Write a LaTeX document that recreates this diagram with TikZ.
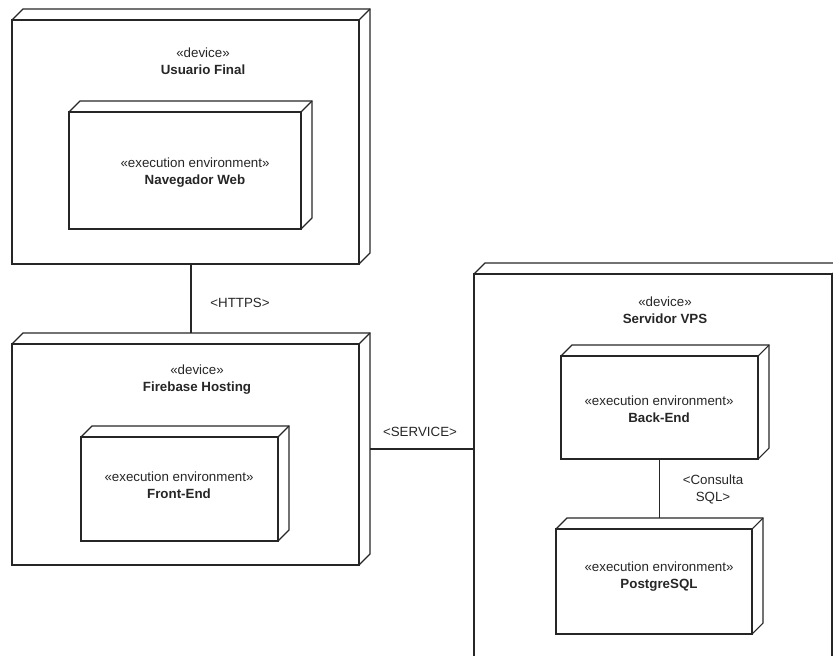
\documentclass[tikz,border=0pt]{standalone}
\usepackage{fontspec}
\setmainfont{Liberation Sans}
\usetikzlibrary{fit}

% front face plus the two back edges of a UML node
\newcommand{\cubeframe}[1]{%
  \draw[cubeline] ([yshift=-8.25pt]#1.north west) rectangle ([xshift=-8.25pt]#1.south east);
  \draw[cubeline] ([yshift=-8.25pt]#1.north west) -- ([xshift=8.25pt]#1.north west) -- (#1.north east)
    -- ([yshift=8.25pt]#1.south east) -- ([xshift=-8.25pt]#1.south east);
  \draw[cubeline] ([xshift=-8.25pt,yshift=-8.25pt]#1.north east) -- (#1.north east);
}

\begin{document}
\begin{tikzpicture}[x=0.75pt,y=-0.75pt,
  cube/.style={inner sep=0pt,outer sep=0pt},
  cubeline/.style={line width=0.8pt,draw=black!85},
  stereo/.style={align=center,font=\fontsize{10}{12.75}\selectfont,text=black!85},
  link/.style={line width=0.8pt,draw=black!85}]
\useasboundingbox (0,0) rectangle (833,656);
\clip (0,0) rectangle (833,656);

% devices
\node[cube,fit={(12,9) (370,264)}] (usuario) {};
\cubeframe{usuario}
\node[stereo] (usuariotxt) at (203,61.5) {«device»\\\textbf{Usuario Final}};

\node[cube,fit={(12,333) (370,565)}] (firebase) {};
\cubeframe{firebase}
\node[stereo] (firebasetxt) at (197,380) {«device»\\\textbf{Firebase Hosting}};

\node[cube,fit={(474,263) (843,720)}] (servidor) {};
\cubeframe{servidor}
\node[stereo] (servidortxt) at (665,310.5) {«device»\\\textbf{Servidor VPS}};

% execution environments
\node[cube,fit={(69,101) (312,229)}] (navegador) {};
\cubeframe{navegador}
\node[stereo] (navegadortxt) at (195,173) {«execution environment»\\\textbf{Navegador Web}};

\node[cube,fit={(81,426) (289,541)}] (frontend) {};
\cubeframe{frontend}
\node[stereo] (frontendtxt) at (179,485) {«execution environment»\\\textbf{Front-End}};

\node[cube,fit={(561,345) (769,459)}] (backend) {};
\cubeframe{backend}
\node[stereo] (backendtxt) at (659,409) {«execution environment»\\\textbf{Back-End}};

\node[cube,fit={(556,518) (763,634)}] (postgres) {};
\cubeframe{postgres}
\node[stereo] (postgrestxt) at (659,577) {«execution environment»\\\textbf{PostgreSQL}};

% links
\draw[link] (usuario.south) -- (firebase.north);
\node[stereo] (https) at (240,303) {<HTTPS>};
\draw[link] (firebase.east) -- (firebase.east -| servidor.west);
\node[stereo] (service) at (420,432) {<SERVICE>};
\draw[link] (backend.south -| postgres.north) -- (postgres.north);
\node[stereo] (consulta) at (713,489) {<Consulta\\SQL>};
\end{tikzpicture}
\end{document}
